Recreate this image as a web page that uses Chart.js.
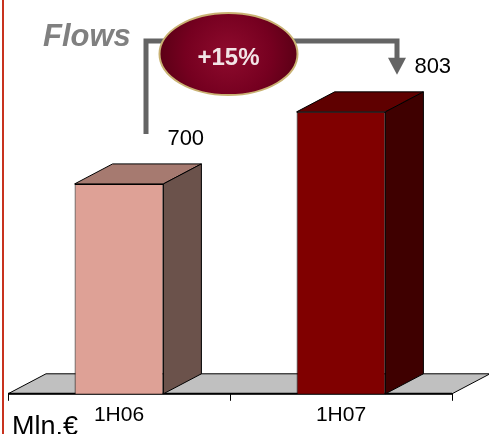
<!DOCTYPE html>
<html>
<head>
<meta charset="utf-8">
<style>
  html, body { margin: 0; padding: 0; background: #ffffff; }
  #wrap { width: 489px; height: 434px; position: relative; }
</style>
<script src="https://cdn.jsdelivr.net/npm/chart.js@4/dist/chart.umd.min.js"></script>
</head>
<body>
<div id="wrap"><canvas id="chart" width="489" height="434"></canvas></div>
<script>
// Half-year flows, million euro
const categories = ['1H06', '1H07'];
const flows = [700, 803];
const unitLabel = 'Mln.€';
const titleLabel = 'Flows';

// Face colours for the 3D boxes: front / top / side
const frontColors = ['#dea196', '#800000'];
const topColors = ['#a67a70', '#5f0000'];
const sideColors = ['#6b524b', '#3f0000'];

const FONT = '"Liberation Sans", Arial, sans-serif';
const DEPTH_X = 38;
const DEPTH_Y = -20;

// Growth between the two half-years, shown in the bubble
const growthPct = Math.round((flows[1] / flows[0] - 1) * 100);
const growthText = (growthPct >= 0 ? '+' : '') + growthPct + '%';

// Value labels: horizontal gap after the bar's front face
const valueLabelGap = [4, 29];

const boxPlugin = {
  id: 'box3d',
  beforeDraw(chart) {
    const ctx = chart.ctx;
    // red rule on the left edge
    ctx.save();
    ctx.strokeStyle = '#c8321e';
    ctx.lineWidth = 2;
    ctx.beginPath();
    ctx.moveTo(3, 0);
    ctx.lineTo(3, chart.height);
    ctx.stroke();
    ctx.restore();
  },
  beforeDatasetsDraw(chart) {
    const { ctx, chartArea } = chart;
    const l = chartArea.left, r = chartArea.right, b = chartArea.bottom;
    // floor
    ctx.save();
    ctx.beginPath();
    ctx.moveTo(l, b);
    ctx.lineTo(l + DEPTH_X, b + DEPTH_Y);
    ctx.lineTo(r + DEPTH_X, b + DEPTH_Y);
    ctx.lineTo(r, b);
    ctx.closePath();
    ctx.fillStyle = '#c0c0c0';
    ctx.fill();
    ctx.strokeStyle = '#000';
    ctx.lineWidth = 1;
    ctx.stroke();
    ctx.beginPath();
    ctx.moveTo(l, b);
    ctx.lineTo(r, b);
    ctx.lineWidth = 2;
    ctx.stroke();
    ctx.restore();
  },
  afterDatasetsDraw(chart) {
    const { ctx, chartArea } = chart;
    const bars = chart.getDatasetMeta(0).data;
    ctx.save();
    ctx.strokeStyle = '#000';
    ctx.lineWidth = 1;
    ctx.lineJoin = 'round';
    bars.forEach((bar, i) => {
      const p = bar.getProps(['x', 'y', 'base', 'width'], true);
      const x0 = p.x - p.width / 2, x1 = p.x + p.width / 2;
      const yt = p.y, yb = Math.min(p.base, chartArea.bottom);
      // top face
      ctx.beginPath();
      ctx.moveTo(x0, yt);
      ctx.lineTo(x0 + DEPTH_X, yt + DEPTH_Y);
      ctx.lineTo(x1 + DEPTH_X, yt + DEPTH_Y);
      ctx.lineTo(x1, yt);
      ctx.closePath();
      ctx.fillStyle = topColors[i];
      ctx.fill();
      ctx.stroke();
      // side face
      ctx.beginPath();
      ctx.moveTo(x1, yt);
      ctx.lineTo(x1 + DEPTH_X, yt + DEPTH_Y);
      ctx.lineTo(x1 + DEPTH_X, yb + DEPTH_Y);
      ctx.lineTo(x1, yb);
      ctx.closePath();
      ctx.fillStyle = sideColors[i];
      ctx.fill();
      ctx.stroke();
    });
    ctx.restore();
  },
  afterDraw(chart) {
    const ctx = chart.ctx;
    const bars = chart.getDatasetMeta(0).data.map(b => b.getProps(['x', 'y', 'width'], true));

    // value labels
    ctx.save();
    ctx.fillStyle = '#000';
    ctx.font = '22px ' + FONT;
    ctx.textAlign = 'left';
    ctx.textBaseline = 'alphabetic';
    bars.forEach((p, i) => {
      ctx.fillText(String(flows[i]), p.x + p.width / 2 + valueLabelGap[i], p.y - 39);
    });

    // connector from first value to second value
    const lineY = 41;
    const xa = bars[0].x + 27;
    const ya = bars[0].y - 50;
    const xb = bars[1].x + 56;
    const tipY = bars[1].y - 37;
    ctx.strokeStyle = '#646464';
    ctx.fillStyle = '#646464';
    ctx.lineWidth = 5;
    ctx.lineJoin = 'miter';
    ctx.lineCap = 'butt';
    ctx.beginPath();
    ctx.moveTo(xa, ya);
    ctx.lineTo(xa, lineY);
    ctx.lineTo(xb, lineY);
    ctx.lineTo(xb, tipY - 15);
    ctx.stroke();
    ctx.beginPath();
    ctx.moveTo(xb - 9, tipY - 17);
    ctx.lineTo(xb + 9, tipY - 17);
    ctx.lineTo(xb, tipY);
    ctx.closePath();
    ctx.fill();

    // growth bubble
    const cx = (bars[0].x + bars[1].x) / 2 - 1.5;
    const cy = 54;
    const rx = 69, ry = 41;
    const grad = ctx.createRadialGradient(cx, cy, 4, cx, cy, rx);
    grad.addColorStop(0, '#8c0a2c');
    grad.addColorStop(0.6, '#760020');
    grad.addColorStop(1, '#5c0016');
    ctx.beginPath();
    ctx.ellipse(cx, cy, rx, ry, 0, 0, Math.PI * 2);
    ctx.fillStyle = grad;
    ctx.fill();
    ctx.strokeStyle = '#c9b273';
    ctx.lineWidth = 2;
    ctx.stroke();
    ctx.fillStyle = '#f2e4e6';
    ctx.font = 'bold 24px ' + FONT;
    ctx.textAlign = 'center';
    ctx.textBaseline = 'alphabetic';
    ctx.fillText(growthText, cx, 65);

    // title
    ctx.fillStyle = '#808080';
    ctx.font = 'italic bold 31px ' + FONT;
    ctx.textAlign = 'left';
    ctx.fillText(titleLabel, 43, 46);

    // unit
    ctx.fillStyle = '#000';
    ctx.font = '27px ' + FONT;
    ctx.fillText(unitLabel, 12, 435);
    ctx.restore();
  }
};

new Chart(document.getElementById('chart'), {
  type: 'bar',
  data: {
    labels: categories,
    datasets: [{
      data: flows,
      backgroundColor: frontColors,
      borderColor: '#000',
      borderWidth: 1,
      borderSkipped: false,
      barPercentage: 0.8,
      categoryPercentage: 0.5
    }]
  },
  options: {
    responsive: false,
    animation: false,
    devicePixelRatio: 1,
    layout: { padding: { left: 8, right: 37, top: 44, bottom: 4 } },
    plugins: { legend: { display: false }, tooltip: { enabled: false } },
    scales: {
      y: { display: false, min: 400, max: 900 },
      x: {
        grid: { offset: true, drawOnChartArea: false, tickLength: 7, color: '#000', lineWidth: 1 },
        border: { display: true, color: '#000', width: 1 },
        ticks: { color: '#000', font: { family: FONT, size: 21 }, padding: 2, maxRotation: 0 }
      }
    }
  },
  plugins: [boxPlugin]
});
</script>
</body>
</html>
